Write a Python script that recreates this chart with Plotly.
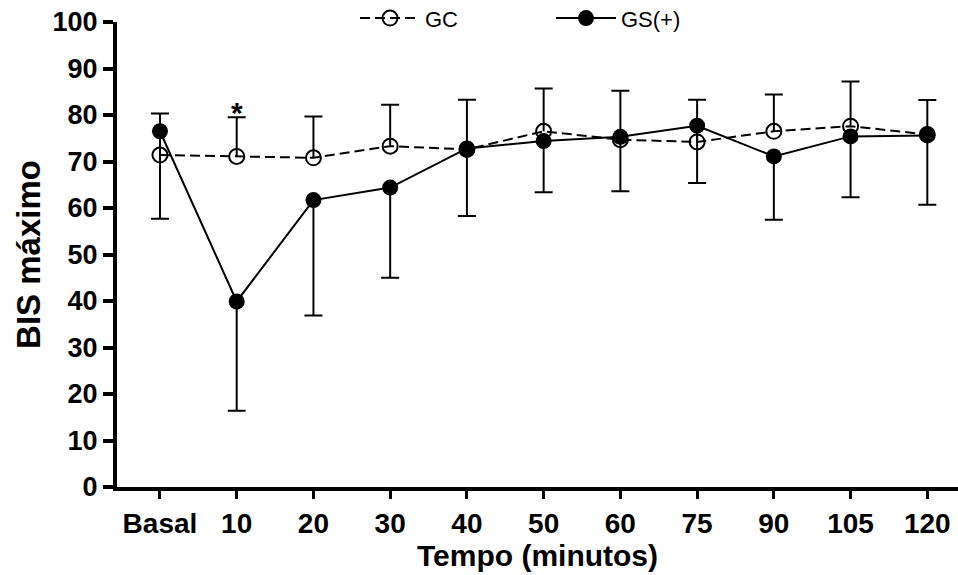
import plotly.graph_objects as go

categories = ["Basal", "10", "20", "30", "40", "50", "60", "75", "90", "105", "120"]
gc_mean = [71.4, 71.1, 70.8, 73.3, 72.6, 76.5, 74.7, 74.2, 76.5, 77.6, 75.8]
gc_err_up = [8.9, 8.4, 8.9, 8.9, 10.7, 9.2, 10.5, 9.1, 7.9, 9.6, 7.4]
gs_mean = [76.5, 39.9, 61.7, 64.4, 72.8, 74.4, 75.3, 77.7, 71.1, 75.4, 75.6]
gs_err_down = [18.8, 23.5, 24.8, 19.4, 14.5, 11.0, 11.7, 12.3, 13.6, 13.1, 14.9]
y_ticks = [0, 10, 20, 30, 40, 50, 60, 70, 80, 90, 100]
star_category = "10"

FONT = "Liberation Sans, Arial, sans-serif"
zeros = [0] * len(categories)

fig = go.Figure()

# GC error bar stems (upper)
fig.add_trace(go.Scatter(
    x=categories, y=gc_mean, mode="markers", marker=dict(size=1, opacity=0),
    error_y=dict(type="data", symmetric=False, array=gc_err_up, arrayminus=zeros,
                 width=0, thickness=2, color="black"),
    showlegend=False, hoverinfo="skip"))
# GC caps
fig.add_trace(go.Scatter(
    x=categories, y=[m + e for m, e in zip(gc_mean, gc_err_up)], mode="markers",
    marker=dict(size=1, opacity=0),
    error_y=dict(type="data", array=zeros, width=9, thickness=2, color="black"),
    showlegend=False, hoverinfo="skip"))
# GS error bar stems (lower)
fig.add_trace(go.Scatter(
    x=categories, y=gs_mean, mode="markers", marker=dict(size=1, opacity=0),
    error_y=dict(type="data", symmetric=False, array=zeros, arrayminus=gs_err_down,
                 width=0, thickness=2, color="black"),
    showlegend=False, hoverinfo="skip"))
# GS caps
fig.add_trace(go.Scatter(
    x=categories, y=[m - e for m, e in zip(gs_mean, gs_err_down)], mode="markers",
    marker=dict(size=1, opacity=0),
    error_y=dict(type="data", array=zeros, width=9, thickness=2, color="black"),
    showlegend=False, hoverinfo="skip"))

fig.add_trace(go.Scatter(
    x=categories, y=gc_mean, mode="lines+markers", name="GC",
    line=dict(color="black", width=2, dash="10px,5px"),
    marker=dict(symbol="circle-open", size=15, color="black", line=dict(width=2))))
fig.add_trace(go.Scatter(
    x=categories, y=gs_mean, mode="lines+markers", name="GS(+)",
    line=dict(color="black", width=2),
    marker=dict(symbol="circle", size=16, color="black")))

si = categories.index(star_category)
fig.add_annotation(x=si, y=gc_mean[si] + gc_err_up[si], text="<b>*</b>",
                   showarrow=False, yanchor="bottom", yshift=-14,
                   font=dict(family=FONT, size=30, color="black"))

fig.update_layout(
    width=958, height=575,
    margin=dict(l=117, r=0, t=22, b=88, autoexpand=False),
    plot_bgcolor="white", paper_bgcolor="white",
    showlegend=True,
    legend=dict(orientation="h", x=0.283, xanchor="left", y=1.008, yanchor="middle",
                font=dict(family=FONT, size=22, color="black"),
                itemwidth=60, entrywidth=121, entrywidthmode="pixels",
                bgcolor="rgba(0,0,0,0)"),
    xaxis=dict(
        type="category", categoryorder="array", categoryarray=categories,
        range=[-0.56, 10.4], showline=True, linewidth=4, linecolor="black",
        ticks="outside", ticklen=8, tickwidth=3, tickcolor="black",
        showgrid=False, zeroline=False,
        tickfont=dict(family=FONT, size=28, color="black", weight="bold"),
        title=dict(text="Tempo (minutos)", standoff=1,
                   font=dict(family=FONT, size=30, color="black", weight="bold"))),
    yaxis=dict(
        range=[0, 100], tickvals=y_ticks, showline=True, linewidth=4, linecolor="black",
        ticks="outside", ticklen=10, tickwidth=4, tickcolor="black",
        showgrid=False, zeroline=False,
        tickfont=dict(family=FONT, size=27, color="black", weight="bold"),
        title=dict(text="BIS máximo", standoff=3,
                   font=dict(family=FONT, size=33, color="black", weight="bold"))),
)

fig.write_html("out.html")
